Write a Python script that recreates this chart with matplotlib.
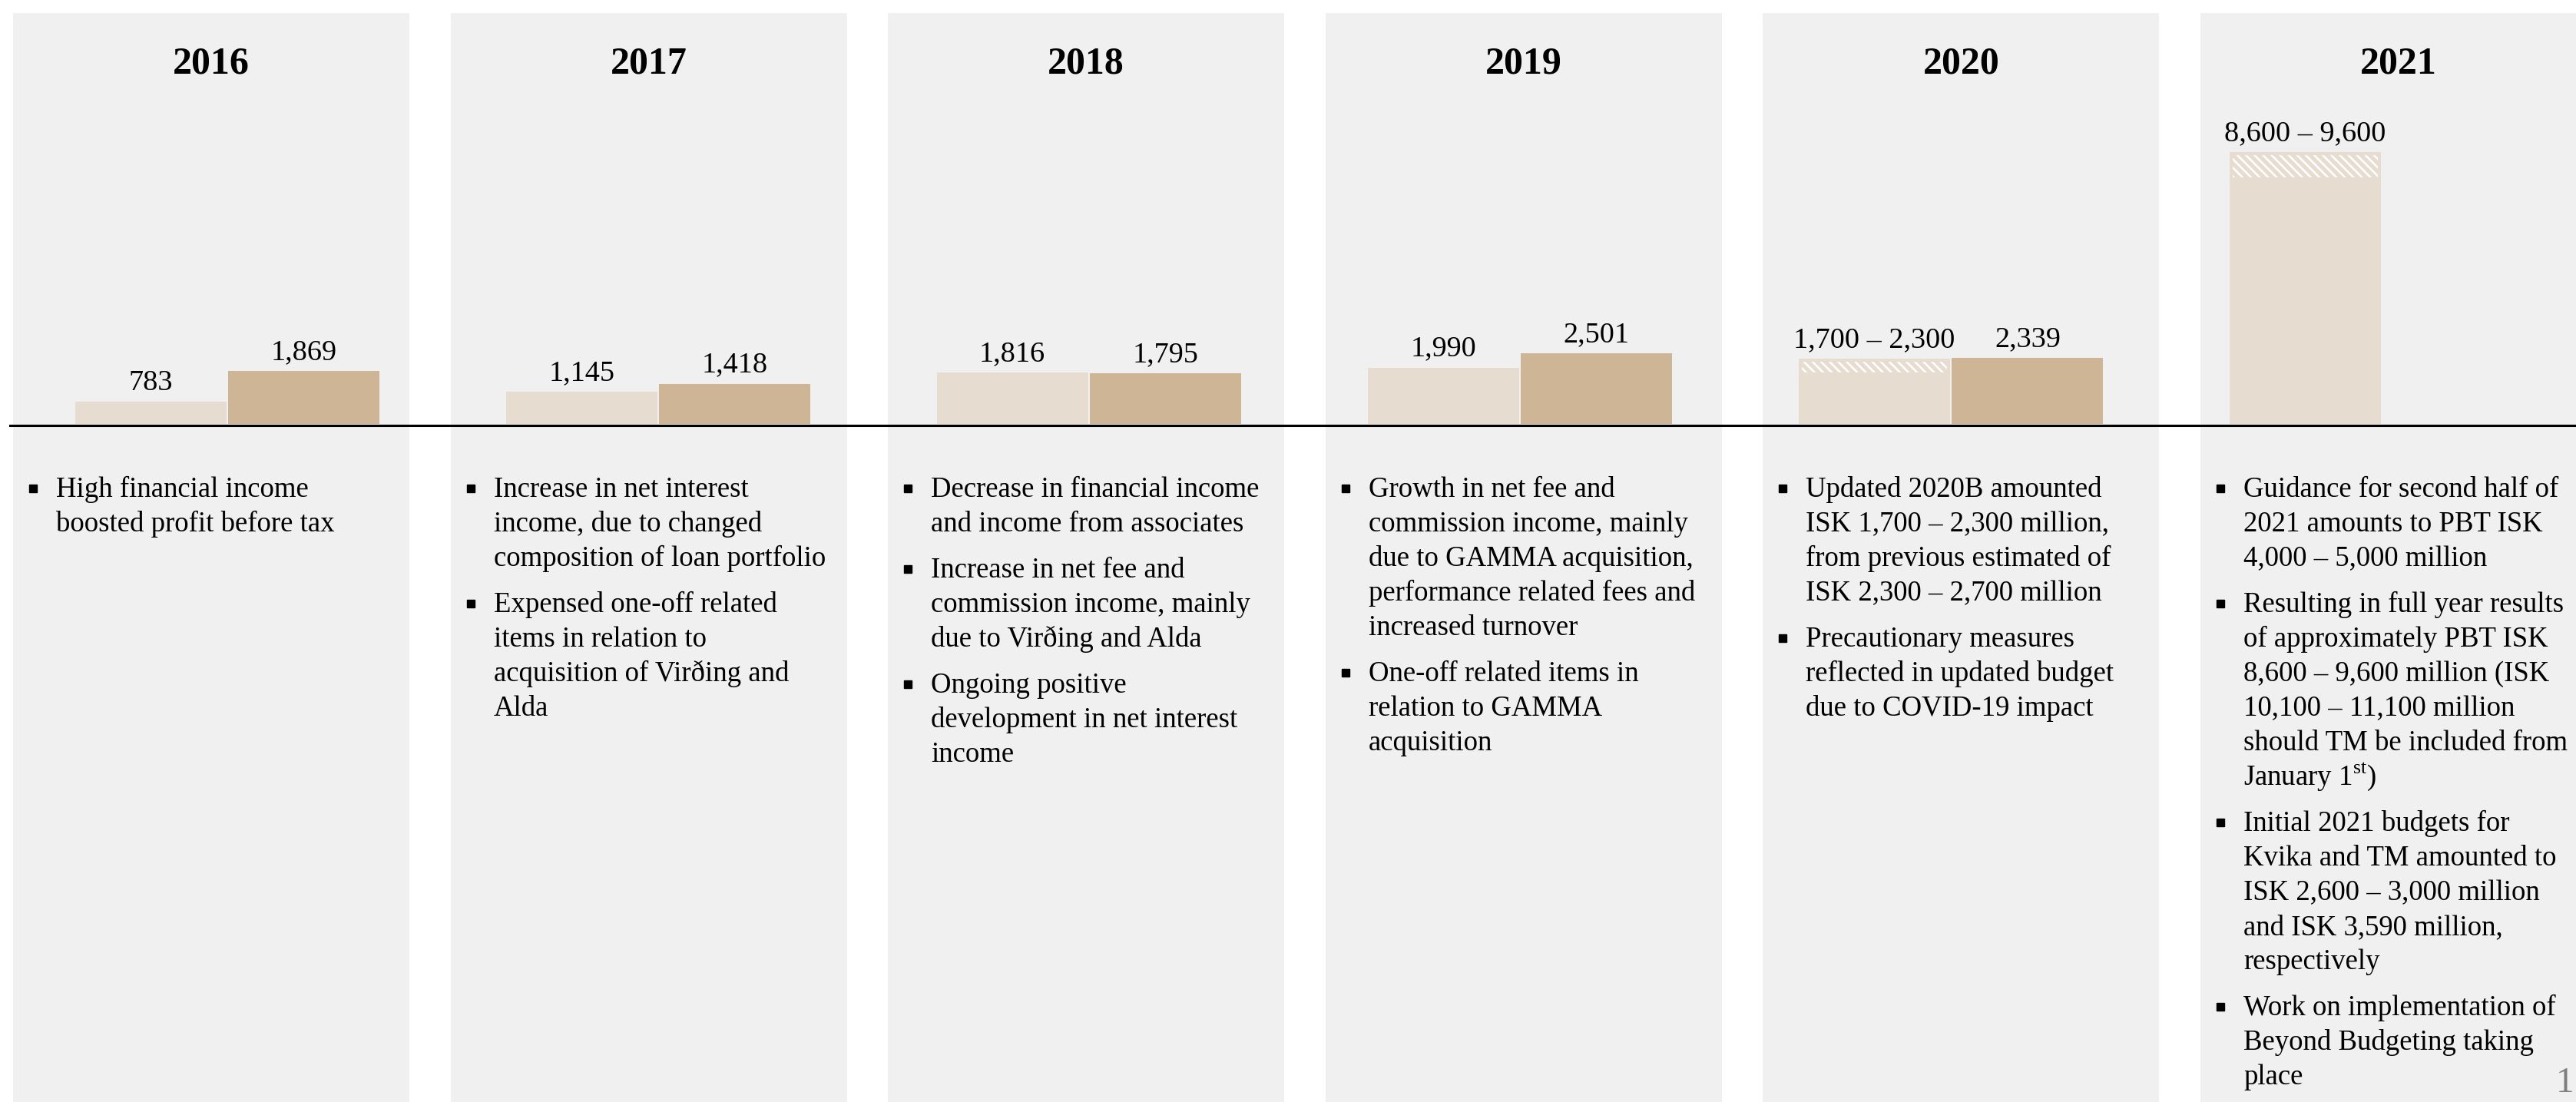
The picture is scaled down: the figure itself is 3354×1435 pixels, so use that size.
import matplotlib
matplotlib.use("Agg")
import matplotlib.pyplot as plt
from matplotlib.patches import Rectangle

plt.rcParams['font.family'] = ['Liberation Serif', 'DejaVu Serif']
plt.rcParams['mathtext.fontset'] = 'custom'
plt.rcParams['mathtext.rm'] = 'Liberation Serif'
plt.rcParams['hatch.linewidth'] = 1.9

# Data
years = ['2016', '2017', '2018', '2019', '2020', '2021']
budget_low = [783, 1145, 1816, 1990, 1700, 8600]
budget_high = [None, None, None, None, 2300, 9600]
actual = [1869, 1418, 1795, 2501, 2339, None]

notes = [
    [["High financial income", "boosted profit before tax"]],
    [["Increase in net interest", "income, due to changed", "composition of loan portfolio"],
     ["Expensed one-off related", "items in relation to", "acquisition of Virðing and", "Alda"]],
    [["Decrease in financial income", "and income from associates"],
     ["Increase in net fee and", "commission income, mainly", "due to Virðing and Alda"],
     ["Ongoing positive", "development in net interest", "income"]],
    [["Growth in net fee and", "commission income, mainly", "due to GAMMA acquisition,",
      "performance related fees and", "increased turnover"],
     ["One-off related items in", "relation to GAMMA", "acquisition"]],
    [["Updated 2020B amounted", "ISK 1,700 – 2,300 million,", "from previous estimated of",
      "ISK 2,300 – 2,700 million"],
     ["Precautionary measures", "reflected in updated budget", "due to COVID-19 impact"]],
    [["Guidance for second half of", "2021 amounts to PBT ISK", "4,000 – 5,000 million"],
     ["Resulting in full year results", "of approximately PBT ISK", "8,600 – 9,600 million (ISK",
      "10,100 – 11,100 million", "should TM be included from", r"January 1$^{\mathrm{st}}$)"],
     ["Initial 2021 budgets for", "Kvika and TM amounted to", "ISK 2,600 – 3,000 million",
      "and ISK 3,590 million,", "respectively"],
     ["Work on implementation of", "Beyond Budgeting taking", "place"]],
]

light = '#E6DCCF'
dark = '#CDB596'
panel_bg = '#F0F0F0'

W, H = 3355, 1435
fig = plt.figure(figsize=(W / 100, H / 100), dpi=100, facecolor='white')

# background layer in pixel coords
bg = fig.add_axes([0, 0, 1, 1])
bg.set_xlim(0, W)
bg.set_ylim(H, 0)
bg.axis('off')

panel_x0, panel_pitch, panel_w = 17, 569.6, 516
for i, yr in enumerate(years):
    px = panel_x0 + i * panel_pitch
    bg.add_patch(Rectangle((px, 17), panel_w, H, color=panel_bg, lw=0, zorder=0))
    bg.text(px + panel_w / 2, 95, yr, fontsize=36, fontweight='bold',
            ha='center', va='baseline', zorder=3)

    y = 647
    for item in notes[i]:
        bg.plot(px + 26, y - 11, marker='s', ms=6.5, color='black', zorder=3)
        for line in item:
            bg.text(px + 56, y, line, fontsize=26.5, ha='left', va='baseline', zorder=3)
            y += 45
        y += 15

bg.plot([13, W], [554, 554], color='black', lw=2.2, zorder=4)
# page number
bg.text(3352, 1432, '1', fontsize=34, color='#7F7F7F', ha='right', va='bottom', zorder=3)

# bar layer
pitch = 561
x0_px = 296 - 0.5 * pitch
ymax = 10000
px_per_unit = 1 / 27.1
ax = fig.add_axes([x0_px / W, (H - 552) / H, 6 * pitch / W, ymax * px_per_unit / H])
ax.set_xlim(-0.5, 5.5)
ax.set_ylim(0, ymax)
ax.axis('off')
ax.patch.set_alpha(0)

bw = 0.351
off = 0.178
pts = 10.8
for i in range(len(years)):
    xb = i - off
    lo, hi = budget_low[i], budget_high[i]
    ax.bar(xb, lo, width=bw, color=light, lw=0)
    if hi is None:
        lbl = f"{lo:,}"
        top = lo
    else:
        # hatched range on top of the lower bound
        ax.bar(xb, hi - lo, bottom=lo, width=bw, facecolor=light,
               edgecolor='white', lw=0, hatch='\\\\\\')
        rim = ax.bar(xb, hi - lo, bottom=lo, width=bw, fill=False,
                     edgecolor=light, lw=6)[0]
        rim.set_clip_path(rim)
        lbl = f"{lo:,} – {hi:,}"
        top = hi
    ax.annotate(lbl, (xb, top), xytext=(0, pts), textcoords='offset points',
                ha='center', va='baseline', fontsize=27.5)

    if actual[i] is not None:
        xa = i + off
        ax.bar(xa, actual[i], width=bw, color=dark, lw=0)
        ax.annotate(f"{actual[i]:,}", (xa, actual[i]), xytext=(0, pts),
                    textcoords='offset points', ha='center', va='baseline', fontsize=27.5)

fig.savefig('out.png', dpi=100, facecolor='white')
